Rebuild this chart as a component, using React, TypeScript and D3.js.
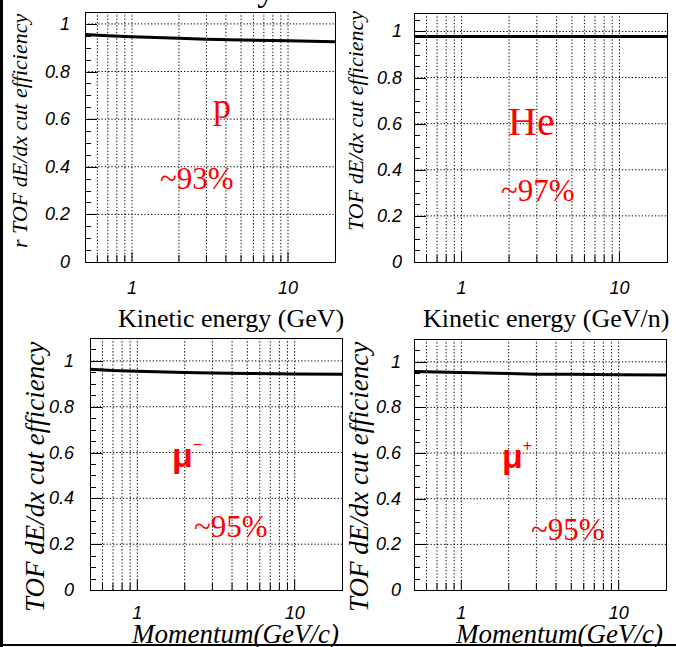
import React, { useRef, useEffect } from 'react';
import * as d3 from 'd3';

// values
const energyPoints = [0.5, 0.7, 1, 2, 3, 5, 10, 20];
const protonEff = [0.955, 0.95, 0.946, 0.94, 0.936, 0.932, 0.929, 0.925];
const heliumEff = [0.978, 0.978, 0.978, 0.978, 0.978, 0.978, 0.978, 0.978];
const muMinusEff = [0.964, 0.958, 0.955, 0.949, 0.947, 0.945, 0.943, 0.942];
const muPlusEff = [0.958, 0.955, 0.953, 0.949, 0.946, 0.945, 0.943, 0.942];

const yTickValues = [0, 0.2, 0.4, 0.6, 0.8, 1];
const xTickValues = [1, 10];
const xGridValues = [0.6, 0.7, 0.8, 0.9, 1, 2, 3, 4, 5, 6, 7, 8, 9, 10];
const xDomain = [0.5, 20];

const yTitleText = 'TOF dE/dx cut efficiency';
const pageTitle = 'Efficiency of TOF dE/dx cut';

const panels = [
  {
    values: protonEff, left: 85, right: 335, top: 12, bottom: 262, yMax: 1.05,
    yLabelRight: 70, xLabelY: 294,
    yTitle: 'r ' + yTitleText, yTitleX: 27, yTitleStart: 248, yTitleSize: 22,
    xTitle: 'Kinetic energy (GeV)', xTitleX: 118, xTitleY: 327, xTitleItalic: false,
    species: 'p', speciesX: 213, speciesY: 118, speciesSize: 36, sup: '',
    pct: '~93%', pctX: 160, pctY: 189,
  },
  {
    values: heliumEff, left: 414, right: 667, top: 13, bottom: 262, yMax: 1.08,
    yLabelRight: 402, xLabelY: 294,
    yTitle: yTitleText, yTitleX: 363, yTitleStart: 231, yTitleSize: 22,
    xTitle: 'Kinetic energy (GeV/n)', xTitleX: 423, xTitleY: 327, xTitleItalic: false,
    species: 'He', speciesX: 508, speciesY: 135, speciesSize: 40, sup: '',
    pct: '~97%', pctX: 501, pctY: 201,
  },
  {
    values: muMinusEff, left: 90, right: 342, top: 338, bottom: 590, yMax: 1.1,
    yLabelRight: 74, xLabelY: 619,
    yTitle: yTitleText, yTitleX: 44, yTitleStart: 612, yTitleSize: 27,
    xTitle: 'Momentum(GeV/c)', xTitleX: 132, xTitleY: 643, xTitleItalic: true,
    species: 'μ', speciesX: 172, speciesY: 467, speciesSize: 34, sup: '−',
    pct: '~95%', pctX: 194, pctY: 537,
  },
  {
    values: muPlusEff, left: 414, right: 666, top: 339, bottom: 590, yMax: 1.1,
    yLabelRight: 401, xLabelY: 619,
    yTitle: yTitleText, yTitleX: 368, yTitleStart: 612, yTitleSize: 27,
    xTitle: 'Momentum(GeV/c)', xTitleX: 456, xTitleY: 643, xTitleItalic: true,
    species: 'μ', speciesX: 502, speciesY: 468, speciesSize: 34, sup: '+',
    pct: '~95%', pctX: 531, pctY: 540,
  },
];

const W = 676;
const H = 647;

const App = () => {
  const svgRef = useRef<SVGSVGElement>(null);

  useEffect(() => {
    if (!svgRef.current) return;
    const svg = d3.select(svgRef.current);
    svg.selectAll('*').remove();

    svg.append('rect').attr('width', W).attr('height', H).attr('fill', '#fff');

    // clipped page title, only the descenders peek in
    svg.append('text')
      .attr('x', 126).attr('y', 0)
      .attr('font-family', 'Liberation Serif, serif')
      .attr('font-size', 36)
      .attr('fill', '#000')
      .text(pageTitle);

    panels.forEach(p => {
      const x = d3.scaleLog().domain(xDomain).range([p.left, p.right]);
      const y = d3.scaleLinear().domain([0, p.yMax]).range([p.bottom, p.top]);
      const g = svg.append('g');

      // dotted grid
      g.selectAll('.vgrid')
        .data(xGridValues)
        .join('line')
        .attr('x1', d => x(d)).attr('x2', d => x(d))
        .attr('y1', p.top).attr('y2', p.bottom)
        .attr('stroke', '#000').attr('stroke-width', 1)
        .attr('stroke-dasharray', '1.3 2');

      g.selectAll('.hgrid')
        .data(yTickValues.filter(v => v > 0))
        .join('line')
        .attr('x1', p.left).attr('x2', p.right)
        .attr('y1', d => y(d)).attr('y2', d => y(d))
        .attr('stroke', '#000').attr('stroke-width', 1)
        .attr('stroke-dasharray', '1.3 2');

      // y ticks inside the frame
      const minor = d3.range(0, p.yMax + 1e-9, 0.05);
      g.selectAll('.ytick')
        .data(minor)
        .join('line')
        .attr('x1', p.left)
        .attr('x2', d => p.left + (Math.abs(d / 0.2 - Math.round(d / 0.2)) < 1e-6 ? 12 : 6))
        .attr('y1', d => Math.round(y(d)) + 0.5).attr('y2', d => Math.round(y(d)) + 0.5)
        .attr('stroke', '#000').attr('stroke-width', 1);

      // x ticks inside the frame
      g.selectAll('.xtick')
        .data(xGridValues)
        .join('line')
        .attr('x1', d => x(d)).attr('x2', d => x(d))
        .attr('y1', p.bottom)
        .attr('y2', d => p.bottom - (d === 1 || d === 10 ? 10 : 7))
        .attr('stroke', '#000').attr('stroke-width', 1);

      // frame
      g.append('rect')
        .attr('x', p.left + 0.5).attr('y', p.top + 0.5)
        .attr('width', p.right - p.left).attr('height', p.bottom - p.top)
        .attr('fill', 'none').attr('stroke', '#000').attr('stroke-width', 1);

      // efficiency curve
      const line = d3.line<number>()
        .x((_, i) => x(energyPoints[i]))
        .y(d => y(d));
      g.append('path')
        .datum(p.values)
        .attr('d', line)
        .attr('fill', 'none')
        .attr('stroke', '#000')
        .attr('stroke-width', 3);

      // tick labels
      g.selectAll('.ylab')
        .data(yTickValues)
        .join('text')
        .attr('x', p.yLabelRight)
        .attr('y', d => y(d) + 6)
        .attr('text-anchor', 'end')
        .attr('font-family', 'Liberation Sans, sans-serif')
        .attr('font-style', 'italic')
        .attr('font-size', 18)
        .text(d => d3.format('~g')(d));

      g.selectAll('.xlab')
        .data(xTickValues)
        .join('text')
        .attr('x', d => x(d))
        .attr('y', p.xLabelY)
        .attr('text-anchor', 'middle')
        .attr('font-family', 'Liberation Sans, sans-serif')
        .attr('font-style', 'italic')
        .attr('font-size', 18)
        .text(d => String(d));

      // axis titles
      g.append('text')
        .attr('transform', `translate(${p.yTitleX},${p.yTitleStart}) rotate(-90)`)
        .attr('font-family', 'Liberation Serif, serif')
        .attr('font-style', 'italic')
        .attr('font-size', p.yTitleSize)
        .text(p.yTitle);

      g.append('text')
        .attr('x', p.xTitleX).attr('y', p.xTitleY)
        .attr('font-family', 'Liberation Serif, serif')
        .attr('font-style', p.xTitleItalic ? 'italic' : 'normal')
        .attr('font-size', p.xTitleItalic ? 27 : 26)
        .text(p.xTitle);

      // red annotations
      const sp = g.append('text')
        .attr('x', p.speciesX).attr('y', p.speciesY)
        .attr('fill', '#ff0000')
        .attr('font-size', p.speciesSize)
        .attr('font-family', p.sup ? 'Liberation Sans, sans-serif' : 'Liberation Serif, serif')
        .attr('font-weight', p.sup ? 'bold' : 'normal')
        .text(p.species);
      if (p.sup) {
        sp.append('tspan')
          .attr('dy', -17)
          .attr('font-size', 16)
          .attr('font-weight', 'normal')
          .text(p.sup);
      }

      g.append('text')
        .attr('x', p.pctX).attr('y', p.pctY)
        .attr('fill', '#ff0000')
        .attr('font-family', 'Liberation Serif, serif')
        .attr('font-size', 31)
        .text(p.pct);
    });

    // slide border pieces
    svg.append('rect').attr('x', 0).attr('y', 0).attr('width', 3).attr('height', H).attr('fill', '#000');
    svg.append('rect').attr('x', 0).attr('y', 644).attr('width', W).attr('height', 2).attr('fill', '#000');
  }, []);

  return (
    <svg
      ref={svgRef}
      width={W}
      height={H}
      style={{ position: 'absolute', left: 0, top: 0, display: 'block' }}
    />
  );
};

export default App;
